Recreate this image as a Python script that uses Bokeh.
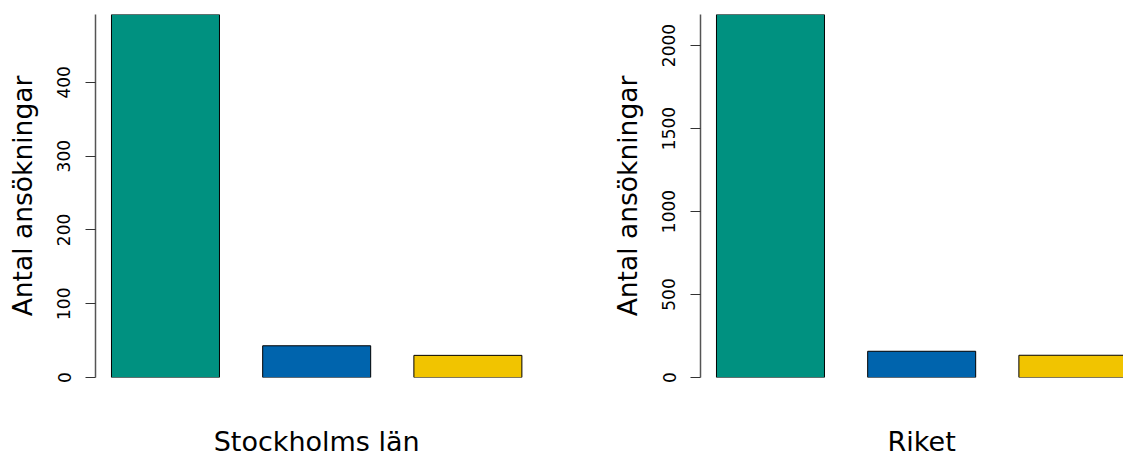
from bokeh.plotting import figure
from bokeh.layouts import row
from bokeh.models import FixedTicker, ColumnDataSource
from bokeh.embed import file_html
from bokeh.resources import INLINE

# Data
colors = ["#009180", "#0064AD", "#F1C400"]
stockholm_values = [492, 43, 30]
riket_values = [2187, 158, 134]
stockholm_ticks = [0, 100, 200, 300, 400]
riket_ticks = [0, 500, 1000, 1500, 2000]
panel_titles = ["Stockholms län", "Riket"]
y_label = "Antal ansökningar"

FONT = "DejaVu Sans"
BAR_W = 1.0
PITCH = 1.4
X0 = 0.352


def make_panel(values, ticks, title, border_left, frame_w, border_right):
    n = len(values)
    xs = [1 + PITCH * i for i in range(n)]
    x_end = X0 + frame_w / 108.0
    fig_w = border_left + frame_w + border_right
    p = figure(width=fig_w, height=459, output_backend="svg", toolbar_location=None,
               x_range=(X0, x_end), y_range=(0, max(values)),
               min_border_left=border_left, min_border_right=border_right,
               min_border_top=14, min_border_bottom=82)
    src = ColumnDataSource(dict(x=xs, top=values, color=colors[:n]))
    p.vbar(x="x", top="top", bottom=0, width=BAR_W, fill_color="color",
           line_color="black", line_width=1, source=src)
    p.grid.visible = False
    p.outline_line_color = None
    p.background_fill_color = "white"
    p.border_fill_color = "white"

    ya = p.yaxis[0]
    ya.ticker = FixedTicker(ticks=ticks)
    ya.axis_line_color = "#555555"
    ya.axis_line_width = 1.5
    ya.major_tick_line_color = "#333333"
    ya.major_tick_in = 0
    ya.major_tick_out = 10
    ya.minor_tick_line_color = None
    ya.major_label_orientation = "vertical"
    ya.major_label_text_font = FONT
    ya.major_label_text_font_size = "17px"
    ya.major_label_text_color = "black"
    ya.major_label_standoff = 15
    ya.axis_label = y_label
    ya.axis_label_text_font = FONT
    ya.axis_label_text_font_size = "26.5px"
    ya.axis_label_text_font_style = "normal"
    ya.axis_label_text_color = "black"
    ya.axis_label_standoff = 17

    xa = p.xaxis[0]
    mid = xs[n // 2]
    xa.ticker = FixedTicker(ticks=[mid])
    xa.major_label_overrides = {mid: title}
    xa.axis_line_color = None
    xa.major_tick_line_color = None
    xa.minor_tick_line_color = None
    xa.major_label_text_font = FONT
    xa.major_label_text_font_size = "27px"
    xa.major_label_text_color = "black"
    xa.major_label_standoff = 42
    return p


p1 = make_panel(stockholm_values, stockholm_ticks, panel_titles[0], 95, 500, 12)
p2 = make_panel(riket_values, riket_ticks, panel_titles[1], 93, 423, 0)
layout = row(p1, p2)

open("out.html", "w").write(file_html(layout, INLINE))
